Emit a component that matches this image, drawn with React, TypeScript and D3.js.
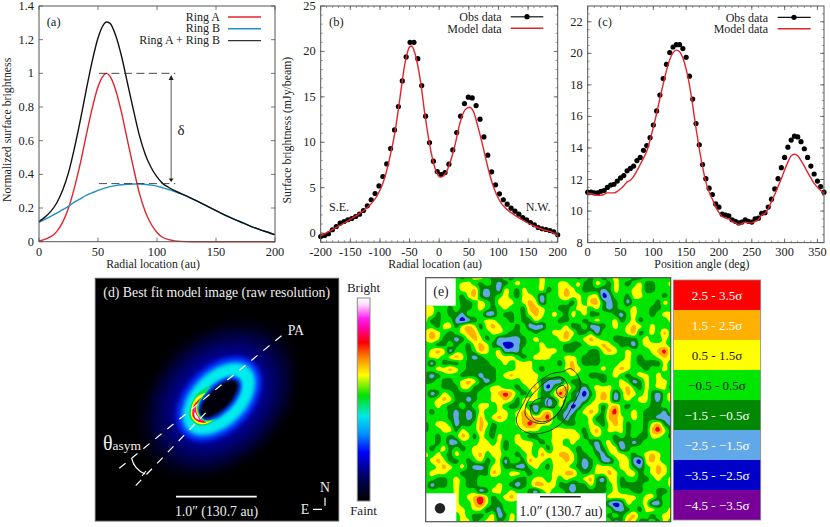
import React from "react";
import * as d3 from "d3";

const FONT = '"Liberation Serif", "Times New Roman", serif';

// panel (a)
const radialAu = [0, 5, 10, 15, 20, 25, 30, 35, 40, 45, 50, 55, 57, 60, 65, 70, 75, 80, 85, 90, 95, 100, 105, 110, 115, 120, 130, 140, 150, 160, 170, 180, 190, 200];
const ringA = [0.005, 0.014, 0.03, 0.06, 0.115, 0.2, 0.32, 0.465, 0.63, 0.79, 0.92, 0.99, 1.0, 0.985, 0.9, 0.765, 0.6, 0.44, 0.29, 0.18, 0.105, 0.055, 0.025, 0.012, 0.005, 0.002, 0, 0, 0, 0, 0, 0, 0, 0];
const ringB = [0.115, 0.132, 0.15, 0.17, 0.19, 0.21, 0.235, 0.255, 0.275, 0.29, 0.305, 0.317, 0.321, 0.327, 0.333, 0.338, 0.341, 0.343, 0.343, 0.34, 0.336, 0.33, 0.32, 0.31, 0.298, 0.285, 0.255, 0.22, 0.185, 0.15, 0.12, 0.09, 0.065, 0.042];
const ringAB = [0.12, 0.146, 0.18, 0.23, 0.305, 0.41, 0.555, 0.72, 0.9, 1.07, 1.21, 1.292, 1.305, 1.298, 1.225, 1.1, 0.941, 0.783, 0.633, 0.52, 0.441, 0.385, 0.345, 0.322, 0.303, 0.287, 0.255, 0.22, 0.185, 0.15, 0.12, 0.09, 0.065, 0.042];

// panel (b)
const profileObs = [-0.37, -0.26, -0.07, 0.37, 0.73, 1.1, 1.28, 1.47, 1.61, 1.83, 2.09, 2.49, 3.0, 3.67, 4.36, 5.2, 6.23, 7.62, 9.31, 11.36, 13.93, 16.75, 19.39, 21.0, 21.0, 19.2, 16.24, 12.87, 9.97, 7.92, 6.78, 6.45, 6.67, 7.59, 9.16, 11.07, 12.87, 14.26, 14.96, 14.88, 14.04, 12.54, 10.59, 8.58, 6.75, 5.32, 4.33, 3.67, 3.19, 2.75, 2.42, 2.09, 1.72, 1.47, 1.17, 0.92, 0.62, 0.48, 0.4, 0.29, 0.15, -0.18];
const profileModelX = [-200, -178.6, -156, -133.6, -116.7, -105.5, -94, -83, -74.5, -66, -57.7, -50, -46.4, -41, -32, -24, -15.5, -7, 2.5, 11, 18, 26.7, 35, 43.6, 51, 57.7, 66, 74.5, 83, 91.4, 102.7, 114, 125, 142, 159, 176, 190, 200];
const profileModel = [-0.3, 0.44, 1.28, 2.2, 3.1, 4.03, 5.68, 8.43, 11.18, 15, 18.7, 20.5, 20.6, 19.8, 16.9, 13, 9.53, 7.15, 6.16, 6.6, 7.7, 9.7, 12.1, 13.56, 13.86, 13.4, 11.55, 9.35, 7, 5.13, 3.48, 2.64, 2.09, 1.39, 0.81, 0.37, 0.11, -0.3];

// panel (c), both sampled every 5 deg
const azimuthObs = [11.2, 11.2, 11.15, 11.15, 11.25, 11.3, 11.5, 11.65, 11.7, 11.9, 12.1, 12.25, 12.55, 12.7, 12.85, 13.2, 13.4, 13.85, 14.15, 14.65, 15.45, 16.35, 17.35, 18.4, 19.3, 20.05, 20.4, 20.55, 20.55, 20.3, 19.75, 18.55, 17.1, 15.55, 14.2, 12.95, 12.05, 11.45, 11.05, 10.45, 10.25, 9.8, 9.75, 9.7, 9.45, 9.35, 9.25, 9.3, 9.45, 9.35, 9.3, 9.5, 9.55, 9.85, 9.9, 10.25, 10.75, 11.4, 12.05, 12.75, 13.4, 14.05, 14.5, 14.75, 14.7, 14.4, 13.95, 13.4, 12.85, 12.35, 11.9, 11.55, 11.2];
const azimuthModel = [11.15, 11.1, 11.05, 11.0, 11.0, 11.05, 11.15, 11.15, 11.15, 11.25, 11.4, 11.6, 11.85, 11.95, 12.2, 12.55, 12.95, 13.35, 13.8, 14.5, 15.3, 16.2, 17.15, 18.05, 18.9, 19.6, 20.05, 20.2, 20.1, 19.7, 19, 18, 16.7, 15.25, 13.95, 12.8, 11.85, 11.2, 10.75, 10.25, 9.9, 9.65, 9.55, 9.5, 9.35, 9.25, 9.15, 9.2, 9.3, 9.25, 9.25, 9.35, 9.45, 9.75, 9.85, 10.15, 10.6, 11.05, 11.55, 12.05, 12.6, 13.1, 13.5, 13.6, 13.5, 13.2, 12.85, 12.45, 12.1, 11.75, 11.5, 11.3, 11.1];

// panel (d) colour bar, top to bottom
const rainbowStops: [number, string][] = [
  [0, "#ffffff"], [0.03, "#ffe0ff"], [0.1, "#ff20f0"], [0.15, "#ff00a0"], [0.22, "#ff0000"], [0.3, "#ff9000"],
  [0.38, "#ffff00"], [0.48, "#00e000"], [0.58, "#00e8e8"], [0.67, "#0090ff"], [0.76, "#0000ff"], [0.88, "#000060"], [1, "#000000"],
];

const sigmaOf: Record<string, number> = { "#": -2.8, "=": -1.8, "-": -0.85, ".": 0, "1": 0.78, "2": 1.72, "3": 2.8 };
const noiseRows = [
  "......-.11.--.-....1.....-.-.-.1..--.....",
  "......11.-.-=-.1...1..11.1--1.-1.-.1--..1",
  "......112-=-=1.-1..1-.121.---=-1..11--...",
  "......-12-=-.1.-11.=..1211.11#=..-11...-.",
  "......--.1.-111.121=....-1.22-=-.=....-1.",
  "11..-.--.1.-.1..-221..--.11.1-=-..1..--..",
  "11-.--=...==.--.-121.1.-1.1--..-=.1..-.11",
  "1--..=#=-.11..-.--1...--..-.1..1-.1-....1",
  "..-11-121-121..-.===...1--.==-.1.121.1...",
  "121.-.122..11.--..-..1121--.=....12-.1.2.",
  "121--=-121-.====-.1...12..121..----.1..1.",
  "..--.-.-121-=##=-..1...---.1121.--=.1111.",
  ".121=..-.21.1===...111.--..--121.1...1231",
  ".11.121-=-..111.-.111..11.---....1.-..121",
  ".=.---.----..1.111....-12.---...11.----1.",
  "..1121.-----...111.-...121...1.121..-..1.",
  "-=-...---=--.121111.....1..---.1.-.11.1..",
  "--.--.121-=-....111-===.--...-..1.=-1.11.",
  "...---11--.11..-.12-#-12.-=.111.12.-1.11-",
  ".=-1.----..1232.-.1--131-=#-121=.21.1-=.1",
  "..121--=-..1121-111-=-1.-==.121=.1.11-=.1",
  "..1.--.-.11.1.--1-=-=-1-#=.11-12.-...--..",
  ".-..-=-=-1..11.121=12.-==.121-23..1.---=.",
  "....-=-=-2.121.122223.-=-..1--221.1.--===",
  "-.11.=--.21-...123211..--..1.-121-..-12-=",
  "-..11-1..2.-....111..1111.-12.111-..-231-",
  "..-.-.21-1.-1..1.--..11111-.1..-.-.--11.-",
  "..-.==...11.1-.111.-.11.1..-=.1-=-=-.....",
  ".-.1-.-.11111-..11.1-111.-..=-11=-.......",
  "1.1.-1..12.11..-.1.211221--.-=.11.-.121..",
  ".121--.-.1-.1=..-211.1121-=-.==.11=#121..",
  "..121.1-==-11--==.1.-111.-=-111.11-=.121.",
  ".111..-----21.11.-...1122.-.1121.11-.121.",
  "..--.1.--......--.11.1.1..12-=11-..--.1.1",
  ".=--.1.--...1.-=-.2211--=--1--.1----....1",
  ".....1...=-11.1..-=.1..-=-----.1..--..--.",
  ".....1.1231-.121.-............11111.11-..",
  ".....1..231--.................=#=1..1==..",
  ".....11.11--=..................==-.-11..1",
  "......1.--.1=-1...............-.-12..-.11",
  "......11-.11-.1................=-21--.-1.",
];
const legendLabels = ["2.5 - 3.5σ", "1.5 - 2.5σ", "0.5 - 1.5σ", "−0.5 - 0.5σ", "−1.5 - −0.5σ", "−2.5 - −1.5σ", "−3.5 - −2.5σ", "−4.5 - −3.5σ"];
const legendColors = ["#ff0000", "#ffb000", "#ffff00", "#00e600", "#008800", "#60a8e8", "#0000c8", "#780098"];
const legendInk = ["#fff", "#fff", "#222", "#222", "#fff", "#fff", "#fff", "#fff"];
const contourThresholds = [-3.5, -2.5, -1.5, -0.5, 0.5, 1.5, 2.5];
const contourFills = ["#0000c8", "#60a8e8", "#008800", "#00e600", "#ffff00", "#ffb000", "#ff0000"];

// model contours on top of the residuals, in grid units (col, row)
const modelOuter: [number, number][] = [[23.6, 14.9], [24.9, 16.1], [25.2, 18.3], [24.05, 20.8], [22.4, 23.6], [20.2, 25.1], [17.4, 25.6], [15.4, 24.7], [14.8, 23.3], [16, 20.5], [17.4, 18], [20.4, 15.8], [22.4, 15.4]];
const modelMiddle: [number, number][] = [[22.1, 16.3], [23.2, 17.7], [22.8, 19.9], [21.5, 22.4], [19.6, 23.8], [17.7, 23.7], [16.3, 22.6], [16.55, 20.5], [18.2, 18.3], [20.4, 16.6]];
const modelInner: [number, number][] = [[19.05, 19.7], [17.7, 20.2], [17.1, 21.6], [17.7, 23.2], [19.3, 23.6], [21, 22.8], [22.4, 21.1], [22.9, 19.4]];
const modelOval: [number, number][] = [[20.4, 19.7], [21.4, 20.4], [20.8, 21.3], [19.9, 21.1], [19.9, 20.1]];
const modelPeak: [number, number][] = [[21.55, 18], [22.55, 17.7], [22.95, 18.8], [22.3, 19.7], [21.4, 18.9]];

// crescent of the model image, brightest last, in page px of panel (d)
const crescentLayers: { color: string; pts: [number, number][] }[] = [
  { color: "#00e060", pts: [[210, 386.7], [198, 393], [190, 408], [190, 418], [197, 425], [207, 425], [216, 419.3], [205, 420], [199, 413], [199.5, 403]] },
  { color: "#ffff00", pts: [[205, 393], [196, 398], [191.5, 408], [191.5, 417], [198, 423.5], [207, 423.5], [212, 420.5], [204, 421.5], [198, 414], [197.5, 403]] },
  { color: "#ff0000", pts: [[201, 398], [194, 405], [192.5, 411], [193, 417], [199, 422], [206, 422.5], [202, 420], [197, 414], [196.5, 405]] },
  { color: "#ff20e0", pts: [[196, 404], [194, 409], [194, 416], [199, 420.5], [203, 421], [198, 417], [195.5, 412]] },
  { color: "#ffffff", pts: [[194.5, 412], [195.5, 418], [199, 419.5], [197, 415.5]] },
];

const RED = "#e3242b";
const BLUE = "#2090c8";
const FRAME = "#555";

// Catmull-Rom upsampling so the contours come out round and still pass the grid values
function upsample(rows: string[], n: number, k: number) {
  const v = (r: number, c: number) => {
    const row = rows[Math.max(0, Math.min(n - 1, r))];
    return sigmaOf[row[Math.max(0, Math.min(n - 1, c))]] ?? 0;
  };
  const cr = (a: number, b: number, c: number, d: number, t: number) =>
    0.5 * (2 * b + (c - a) * t + (2 * a - 5 * b + 4 * c - d) * t * t + (3 * b - a - 3 * c + d) * t * t * t);
  const m = (n - 1) * k + 1;
  const out = new Array(m * m);
  for (let j = 0; j < m; j++) {
    const r = Math.floor(j / k);
    const ty = j / k - r;
    for (let i = 0; i < m; i++) {
      const c = Math.floor(i / k);
      const tx = i / k - c;
      const col = [-1, 0, 1, 2].map((dr) => cr(v(r + dr, c - 1), v(r + dr, c), v(r + dr, c + 1), v(r + dr, c + 2), tx));
      out[j * m + i] = cr(col[0], col[1], col[2], col[3], ty);
    }
  }
  return { values: out, size: m };
}

interface FrameProps {
  x: d3.ScaleLinear<number, number>;
  y: d3.ScaleLinear<number, number>;
  xTicks: number[];
  yTicks: number[];
  xMinor?: number[];
  yMinor?: number[];
  xLabel: string;
  yLabel?: string;
  yLabelX?: number;
}

const PlotFrame: React.FC<FrameProps> = ({ x, y, xTicks, yTicks, xMinor = [], yMinor = [], xLabel, yLabel, yLabelX = 0 }) => {
  const [x0, x1] = x.range();
  const [y0, y1] = y.range();
  return (
    <g fontFamily={FONT} fill="#222">
      <rect x={x0} y={y1} width={x1 - x0} height={y0 - y1} fill="none" stroke={FRAME} strokeWidth={1} />
      {xTicks.map((t) => (
        <g key={"xt" + t}>
          <path d={`M${x(t)},${y0}v-4M${x(t)},${y1}v4`} stroke={FRAME} strokeWidth={0.8} />
          <text x={x(t)} y={256} textAnchor="middle" fontSize={12.4}>{t}</text>
        </g>
      ))}
      {xMinor.map((t) => (
        <path key={"xm" + t} d={`M${x(t)},${y0}v-2M${x(t)},${y1}v2`} stroke={FRAME} strokeWidth={0.6} />
      ))}
      {yTicks.map((t) => (
        <g key={"yt" + t}>
          <path d={`M${x0},${y(t)}h4M${x1},${y(t)}h-4`} stroke={FRAME} strokeWidth={0.8} />
          <text x={x0 - 5} y={y(t) + 4} textAnchor="end" fontSize={12.4}>{t}</text>
        </g>
      ))}
      {yMinor.map((t) => (
        <path key={"ym" + t} d={`M${x0},${y(t)}h2M${x1},${y(t)}h-2`} stroke={FRAME} strokeWidth={0.6} />
      ))}
      <text x={(x0 + x1) / 2 - 4} y={268} textAnchor="middle" fontSize={11.8}>{xLabel}</text>
      {yLabel && (
        <text transform={`translate(${yLabelX},${(y0 + y1) / 2 + 6}) rotate(-90)`} textAnchor="middle" fontSize={11.8}>{yLabel}</text>
      )}
    </g>
  );
};

export default function App() {
  // (a)
  const xa = d3.scaleLinear().domain([0, 200]).range([39, 275]);
  const ya = d3.scaleLinear().domain([0, 1.4]).range([241.7, 6]);
  const lineA = (vals: number[]) =>
    d3.line<number>().x((_, i) => xa(radialAu[i])).y((d) => ya(d)).curve(d3.curveMonotoneX)(vals) || "";

  // (b)
  const xb = d3.scaleLinear().domain([-200, 200]).range([320.7, 557.7]);
  const yb = d3.scaleLinear().domain([-1, 25]).range([242.2, 6]);
  const obsXb = profileObs.map((_, i) => -200 + (i * 400) / (profileObs.length - 1));
  const lineBModel = d3.line<number>().x((_, i) => xb(profileModelX[i])).y((d) => yb(d)).curve(d3.curveMonotoneX)(profileModel) || "";

  // (c)
  const xc = d3.scaleLinear().domain([0, 360]).range([587.7, 824]);
  const yc = d3.scaleLinear().domain([8, 23]).range([242.6, 6]);
  const deg = azimuthObs.map((_, i) => i * 5);
  const lineCModel = d3.line<number>().x((_, i) => xc(deg[i])).y((d) => yc(d)).curve(d3.curveMonotoneX)(azimuthModel) || "";

  // (e)
  const k = 4;
  const { values, size } = upsample(noiseRows, 41, k);
  const contours = d3.contours().size([size, size]).thresholds(contourThresholds)(values);
  const ex0 = 425.7, ex1 = 670.7, ey0 = 277.7, ey1 = 521.7;
  const sx = d3.scaleLinear().domain([0.5, size - 0.5]).range([ex0, ex1]);
  const sy = d3.scaleLinear().domain([0.5, size - 0.5]).range([ey0, ey1]);
  const contourPath = d3.geoPath(
    d3.geoTransform({
      point(px, py) {
        this.stream.point(sx(px), sy(py));
      },
    })
  );
  const gx = d3.scaleLinear().domain([0, 40]).range([ex0, ex1]);
  const gy = d3.scaleLinear().domain([0, 40]).range([ey0, ey1]);
  const closedCurve = d3.line<[number, number]>().x((d) => gx(d[0])).y((d) => gy(d[1])).curve(d3.curveCatmullRomClosed);
  const openCurve = d3.line<[number, number]>().x((d) => gx(d[0])).y((d) => gy(d[1])).curve(d3.curveCatmullRom);
  const crescentCurve = d3.line<[number, number]>().curve(d3.curveCatmullRomClosed.alpha(0.5));

  const legendY = d3.scaleBand<number>().domain(d3.range(legendLabels.length)).range([280, 520]);
  const ringX = 219;
  const ringY = 399;

  return (
    <svg width={830} height={527} style={{ position: "absolute", left: 0, top: 0, background: "#fff" }}>
      <defs>
        <linearGradient id="rainbow" x1="0" x2="0" y1="0" y2="1">
          {rainbowStops.map(([o, c]) => (
            <stop key={o} offset={o} stopColor={c} />
          ))}
        </linearGradient>
        <radialGradient id="glow">
          <stop offset="0" stopColor="#0000a0" />
          <stop offset="0.5" stopColor="#000090" />
          <stop offset="0.75" stopColor="#000038" />
          <stop offset="1" stopColor="#000000" stopOpacity={0} />
        </radialGradient>
        <filter id="b2" x="-30%" y="-30%" width="160%" height="160%"><feGaussianBlur stdDeviation="2.2" /></filter>
        <filter id="b4" x="-30%" y="-30%" width="160%" height="160%"><feGaussianBlur stdDeviation="1.6" /></filter>
        <filter id="b3" x="-30%" y="-30%" width="160%" height="160%"><feGaussianBlur stdDeviation="0.4" /></filter>
        <clipPath id="eclip"><rect x={ex0} y={ey0} width={ex1 - ex0} height={ey1 - ey0} /></clipPath>
      </defs>

      {/* (a) */}
      <path d={lineA(ringA)} fill="none" stroke={RED} strokeWidth={1.4} />
      <path d={lineA(ringB)} fill="none" stroke={BLUE} strokeWidth={1.4} />
      <path d={lineA(ringAB)} fill="none" stroke="#111" strokeWidth={1.4} />
      <path d={`M${xa(50.8)},${ya(1)}H${xa(115.5)}M${xa(50.8)},${ya(0.345)}H${xa(115.5)}`} stroke="#333" strokeWidth={0.9} strokeDasharray="8 4.5" />
      <path d={`M${xa(112)},${ya(0.97)}V${ya(0.365)}`} stroke="#666" strokeWidth={1.1} />
      <path d={`M${xa(112) - 2.5},${ya(0.96)}L${xa(112)},${ya(0.99)}L${xa(112) + 2.5},${ya(0.96)}Z M${xa(112) - 2.5},${ya(0.375)}L${xa(112)},${ya(0.355)}L${xa(112) + 2.5},${ya(0.375)}Z`} fill="#222" />
      <PlotFrame x={xa} y={ya} xTicks={[0, 50, 100, 150, 200]} yTicks={[0, 0.2, 0.4, 0.6, 0.8, 1, 1.2, 1.4]} xLabel="Radial location (au)" yLabel="Normalized surface brightness" yLabelX={11} />
      <g fontFamily={FONT} fontSize={12.5} fill="#222">
        <text x={46.7} y={26}>(a)</text>
        <text x={181} y={135} textAnchor="middle" fontSize={15}>δ</text>
        {["Ring A", "Ring B", "Ring A + Ring B"].map((t, i) => (
          <g key={t}>
            <text x={220} y={20.5 + i * 11.8} textAnchor="end" fontSize={12}>{t}</text>
            <path d={`M228,${17 + i * 11.8}H261`} stroke={[RED, BLUE, "#333"][i]} strokeWidth={1.4} />
          </g>
        ))}
      </g>

      {/* (b) */}
      {profileObs.map((d, i) => (
        <circle key={i} cx={xb(obsXb[i])} cy={yb(d)} r={2.6} fill="#000" />
      ))}
      <path d={lineBModel} fill="none" stroke={RED} strokeWidth={1.4} />
      <PlotFrame x={xb} y={yb} xTicks={[-200, -150, -100, -50, 0, 50, 100, 150, 200]} yTicks={[0, 5, 10, 15, 20, 25]} xMinor={d3.range(-190, 200, 10)} yMinor={d3.range(-1, 25, 1)} xLabel="Radial location (au)" yLabel="Surface brightness (mJy/beam)" yLabelX={291} />
      <g fontFamily={FONT} fontSize={12} fill="#222">
        <text x={329} y={26} fontSize={12.5}>(b)</text>
        <text x={329} y={211}>S.E.</text>
        <text x={525.7} y={211}>N.W.</text>
        <text x={501.7} y={21} textAnchor="end">Obs data</text>
        <text x={501.7} y={32.5} textAnchor="end">Model data</text>
        <path d="M510.7,16.7H543.3" stroke="#444" strokeWidth={1.4} />
        <circle cx={527} cy={16.7} r={2.6} fill="#000" />
        <path d="M510.7,28.3H543.3" stroke={RED} strokeWidth={1.4} />
      </g>

      {/* (c) */}
      {azimuthObs.map((d, i) => (
        <circle key={i} cx={xc(deg[i])} cy={yc(d)} r={2.6} fill="#000" />
      ))}
      <path d={lineCModel} fill="none" stroke={RED} strokeWidth={1.4} />
      <PlotFrame x={xc} y={yc} xTicks={[0, 50, 100, 150, 200, 250, 300, 350]} yTicks={[8, 10, 12, 14, 16, 18, 20, 22]} xMinor={d3.range(10, 360, 10)} yMinor={d3.range(8.5, 23, 0.5)} xLabel="Position angle (deg)" />
      <g fontFamily={FONT} fontSize={12} fill="#222">
        <text x={598} y={26} fontSize={12.5}>(c)</text>
        <text x={768} y={21.5} textAnchor="end">Obs data</text>
        <text x={768} y={33} textAnchor="end">Model data</text>
        <path d="M777.7,17.3H810.7" stroke="#111" strokeWidth={1.2} />
        <circle cx={794} cy={17.3} r={2.6} fill="#000" />
        <path d="M777.7,28.7H810.7" stroke={RED} strokeWidth={1.4} />
      </g>

      {/* (d) */}
      <rect x={95.3} y={278.3} width={243.4} height={242.7} fill="#000" stroke={FRAME} strokeWidth={1} />
      <g transform={`translate(${ringX},${ringY}) rotate(-45)`}>
        <ellipse rx={100} ry={74} fill="url(#glow)" />
        <ellipse rx={50} ry={33} fill="#0030ff" filter="url(#b2)" />
        <ellipse rx={44} ry={27} fill="#00ecec" filter="url(#b2)" />
        <ellipse rx={29} ry={15} fill="#0040ff" filter="url(#b4)" />
        <ellipse rx={25} ry={11} fill="#000008" filter="url(#b4)" />
      </g>
      <g filter="url(#b3)">
        {crescentLayers.map((l) => (
          <path key={l.color} d={crescentCurve(l.pts) || ""} fill={l.color} />
        ))}
      </g>
      <g stroke="#fff" fill="none">
        <path d="M119.3,468.3L283.3,334.3M135.7,485.7L206.7,411.7" strokeWidth={1.2} strokeDasharray="8 7.5" />
        <path d="M131.7,458.3Q134,469 145,474" strokeWidth={1.2} />
        <path d="M142,476L146,471" strokeWidth={1.2} />
        <path d="M176,496.7H256.7" strokeWidth={1.8} />
        <path d="M325,497.7V505.7M313,509.3H322" strokeWidth={1.2} />
      </g>
      <g fontFamily={FONT} fill="#eee" fontSize={13.8}>
        <text x={216.7} y={296.5} textAnchor="middle">(d) Best fit model image (raw resolution)</text>
        <text x={287.7} y={335}>PA</text>
        <text x={103} y={450} fontSize={20}>θ<tspan fontSize={13.5}>asym</tspan></text>
        <text x={216.5} y={515.5} textAnchor="middle">1.0″ (130.7 au)</text>
        <text x={325} y={492} textAnchor="middle">N</text>
        <text x={305} y={514} textAnchor="middle">E</text>
      </g>
      <rect x={357.3} y={298} width={12.7} height={203} fill="url(#rainbow)" stroke="#888" strokeWidth={1} />
      <g fontFamily={FONT} fill="#222" fontSize={13} textAnchor="middle">
        <text x={363.5} y={292}>Bright</text>
        <text x={363.5} y={515}>Faint</text>
      </g>

      {/* (e) */}
      <g clipPath="url(#eclip)">
        <rect x={ex0} y={ey0} width={ex1 - ex0} height={ey1 - ey0} fill="#0000c8" />
        {contours.map((c, i) => (
          <path key={i} d={contourPath(c) || ""} fill={contourFills[i]} />
        ))}
        <g fill="none" stroke="#111" strokeWidth={0.8}>
          <path d={closedCurve(modelOuter) || ""} />
          <path d={closedCurve(modelMiddle) || ""} />
          <path d={openCurve(modelInner) || ""} />
          <path d={closedCurve(modelOval) || ""} />
          <path d={closedCurve(modelPeak) || ""} />
        </g>
      </g>
      <rect x={ex0} y={ey0} width={30} height={28} fill="#fff" />
      <rect x={ex0} y={493.3} width={30.6} height={28.4} fill="#fff" />
      <circle cx={440} cy={508.3} r={5.2} fill="#222" />
      <rect x={516.7} y={493.3} width={89.3} height={28.4} fill="#fff" />
      <path d="M540,496.7H580.7" stroke="#222" strokeWidth={1.4} />
      <rect x={ex0} y={ey0} width={ex1 - ex0} height={ey1 - ey0} fill="none" stroke={FRAME} strokeWidth={1.2} />
      <g fontFamily={FONT} fill="#222" fontSize={13.8}>
        <text x={441} y={296} textAnchor="middle">(e)</text>
        <text x={561} y={516} textAnchor="middle">1.0″ (130.7 au)</text>
      </g>

      {/* (e) legend */}
      {legendLabels.map((t, i) => (
        <g key={t}>
          <rect x={673.3} y={legendY(i)} width={87.4} height={legendY.bandwidth()} fill={legendColors[i]} />
          <text x={717} y={(legendY(i) || 0) + 20} textAnchor="middle" fontFamily={FONT} fontSize={13} fill={legendInk[i]}>{t}</text>
        </g>
      ))}
      <rect x={673.3} y={280} width={87.4} height={240} fill="none" stroke="#888" strokeWidth={0.8} />
    </svg>
  );
}
